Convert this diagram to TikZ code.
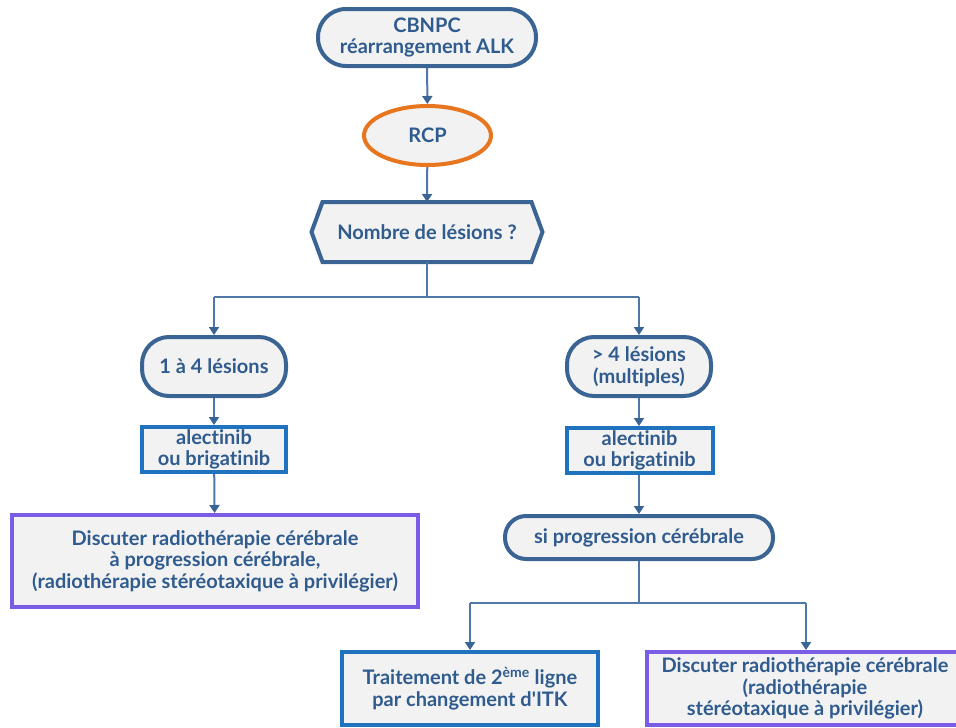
\documentclass[tikz,border=0pt]{standalone}
\usepackage{fontspec}
\setmainfont{Lato}[Ligatures=NoCommon]
\usetikzlibrary{arrows.meta,shapes.geometric,backgrounds}
\definecolor{txt}{HTML}{2F5B8E}
\definecolor{dblue}{HTML}{3A6494}
\definecolor{lnk}{HTML}{5077A8}
\definecolor{bblue}{HTML}{1F72BE}
\definecolor{purp}{HTML}{7B5CE4}
\definecolor{orng}{HTML}{E8761F}
\definecolor{bg}{HTML}{F2F2F2}
\tikzset{
  base/.style={font=\fontsize{20}{21.5}\selectfont\bfseries, text=txt, fill=bg, line width=4pt, align=center, inner sep=0pt},
  pill/.style={base, draw=dblue, rounded corners=#1},
  rcp/.style={base, draw=orng, ellipse},
  blubox/.style={base, draw=bblue},
  purbox/.style={base, draw=purp},
  hexnode/.style={base, fill=none, draw=none},
  link/.style={draw=lnk, line width=2pt},
  arr/.style={link, -{Triangle[width=10pt,length=8pt,fill=dblue,color=dblue]}},
}
\begin{document}
\begin{tikzpicture}[x=1pt,y=-1pt]
\useasboundingbox (0,0) rectangle (956,728);
\node[pill=28pt, minimum width=218pt, minimum height=57pt] (cbnpc) at (427,37.5) {CBNPC\\réarrangement ALK};
\node[rcp, minimum width=127pt, minimum height=59pt] (rcp) at (427.5,135.5) {RCP};
\node[hexnode, minimum width=205pt, minimum height=56pt] (hex) at (427,232) {Nombre de lésions ?};
\begin{scope}[on background layer]
\draw[line width=4pt, draw=dblue, fill=bg, line join=miter]
  (hex.north west) -- (hex.north east) -- ([xshift=11pt]hex.east) -- (hex.south east)
  -- (hex.south west) -- ([xshift=-11pt]hex.west) -- cycle;
\end{scope}
\node[pill=27pt, minimum width=144pt, minimum height=59pt] (l14) at (214,366.5) {1 à 4 lésions};
\node[pill=27pt, minimum width=144pt, minimum height=59pt] (l4) at (639,366.5) {> 4 lésions\\(multiples)};
\node[blubox, minimum width=144pt, minimum height=45pt] (al1) at (214,449.5) {alectinib\\ou brigatinib};
\node[blubox, minimum width=146pt, minimum height=45pt] (al2) at (639.5,450.5) {alectinib\\ou brigatinib};
\node[purbox, minimum width=406pt, minimum height=92pt] (disc1) at (215,561) {Discuter radiothérapie cérébrale\\à progression cérébrale,\\(radiothérapie stéréotaxique à privilégier)};
\node[pill=21pt, minimum width=268pt, minimum height=43pt] (sip) at (639,537.5) {si progression cérébrale};
\node[blubox, minimum width=256pt, minimum height=73pt] (trt) at (470,688.5) {Traitement de 2\textsuperscript{ème} ligne\\par changement d\textquotesingle ITK};
\node[purbox, minimum width=316pt, minimum height=73pt] (disc2) at (805,688.5) {Discuter radiothérapie cérébrale\\(radiothérapie\\stéréotaxique à privilégier)};
\coordinate (j1) at (427,297);
\coordinate (j1l) at (214,297);
\coordinate (j1r) at (639,297);
\coordinate (j2) at (639,603);
\coordinate (j2l) at (470,603);
\coordinate (j2r) at (806,603);
\draw[arr] (cbnpc) -- (rcp);
\draw[arr] (rcp) -- (hex.north);
\draw[link] (hex.south) -- (j1);
\draw[link] (j1l) -- (j1r);
\draw[arr] (j1l) -- (l14);
\draw[arr] (j1r) -- (l4);
\draw[arr] (l14) -- (al1);
\draw[arr] (l4.south) -- (l4.south |- al2.north);
\draw[arr] (al1) -- (disc1);
\draw[arr] (al2.south -| sip.north) -- (sip.north);
\draw[link] (sip.south) -- (j2);
\draw[link] (j2l) -- (j2r);
\draw[arr] (j2l) -- (j2l |- trt.north);
\draw[arr] (j2r) -- (j2r |- disc2.north);
\end{tikzpicture}
\end{document}
